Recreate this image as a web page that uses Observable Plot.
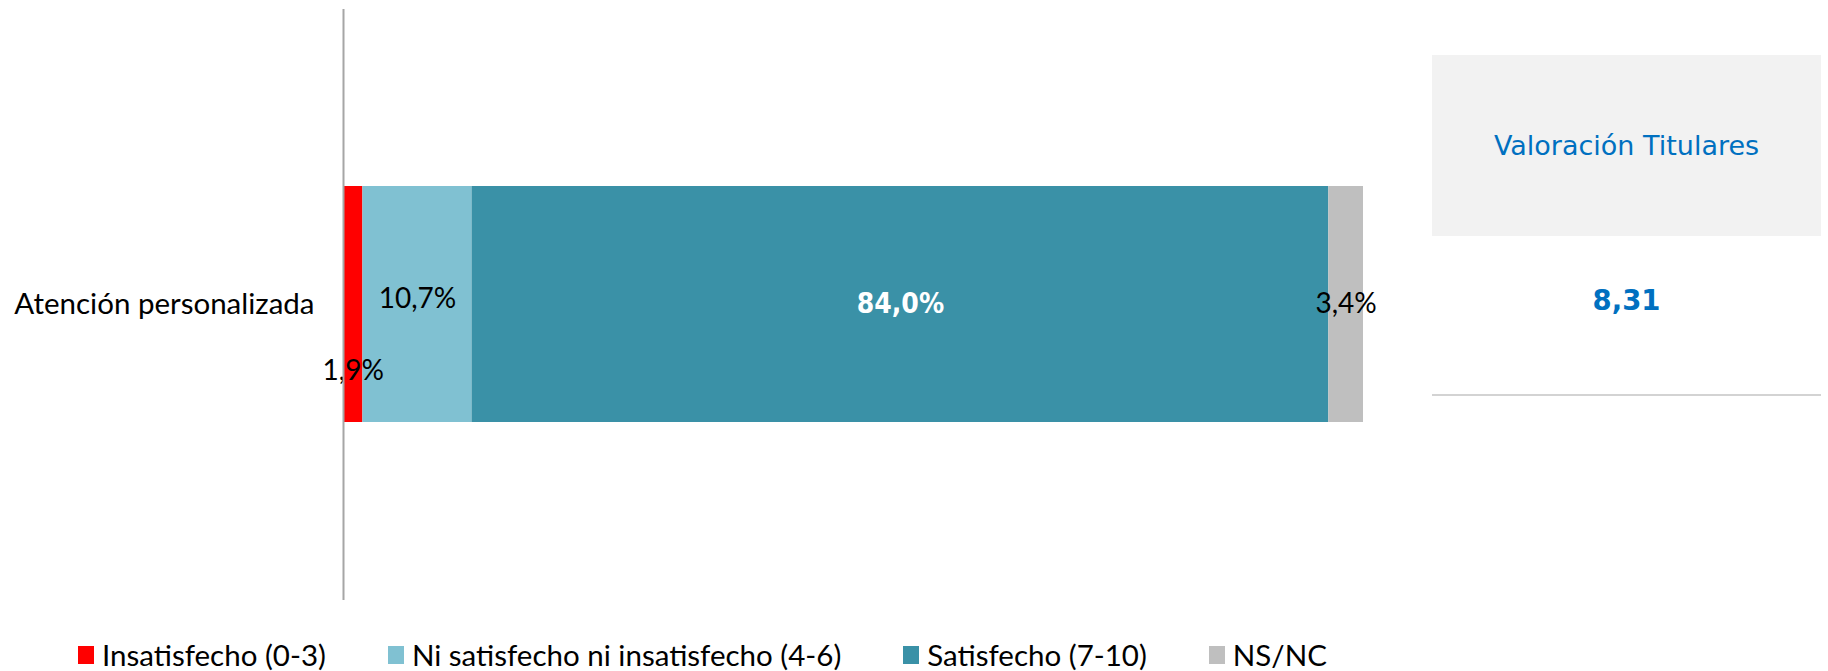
<!DOCTYPE html>
<html>
<head>
<meta charset="utf-8">
<script src="https://cdn.jsdelivr.net/npm/d3@7"></script>
<script src="https://cdn.jsdelivr.net/npm/@observablehq/plot@0.6"></script>
<style>
  html, body { margin: 0; padding: 0; background: #fff; }
  #wrap { position: relative; width: 1828px; height: 671px; overflow: hidden; }
  #panel { position: absolute; left: 1432px; top: 55px; width: 389px; height: 181px; background: #F2F2F2;
    display: flex; align-items: center; justify-content: center;
    font-family: "DejaVu Sans", Verdana, sans-serif; font-size: 27px; color: #0070C0; }
  #score { position: absolute; left: 1432px; top: 280px; width: 389px; text-align: center;
    font-family: "DejaVu Sans", Verdana, sans-serif; font-weight: bold; font-size: 27.5px; color: #0070C0; line-height: 40px; }
  #rule { position: absolute; left: 1432px; top: 394px; width: 389px; height: 2px; background: #D3D3D3; }
  #legend { position: absolute; left: 0; top: 634px; height: 41px; width: 1828px; display: flex; align-items: center;
    font-family: Lato, "Open Sans", sans-serif; font-size: 29.5px; color: #000; padding-left: 78px; box-sizing: border-box; }
  .item { display: flex; align-items: center; margin-right: 62px; }
  .sw { width: 16px; height: 18px; margin-right: 8px; }
</style>
</head>
<body>
<div id="wrap">
  <div id="chart"></div>
  <div id="panel"></div>
  <div id="score"></div>
  <div id="rule"></div>
  <div id="legend"></div>
</div>
<script>
const categories = ["Atención personalizada"];
const series = ["Insatisfecho (0-3)", "Ni satisfecho ni insatisfecho (4-6)", "Satisfecho (7-10)", "NS/NC"];
const values = [1.9, 10.7, 84.0, 3.4];
const colors = ["#FF0000", "#80C1D2", "#3A91A7", "#BFBFBF"];
const panelTitle = ["Valoración Titulares"];
const panelValues = ["8,31"];

const data = series.map((s, i) => ({cat: categories[0], series: s, value: values[i]}));
const fmt = v => v.toFixed(1).replace(".", ",") + "%";

const labelStyles = [
  {fill: "black", fontWeight: "normal", dy: 67, fontSize: 28},
  {fill: "black", fontWeight: "normal", dy: -5, fontSize: 28},
  {fill: "white", fontWeight: "bold", dy: 0, fontSize: 28, fontFamily: "DejaVu Sans Condensed, DejaVu Sans, sans-serif"},
  {fill: "black", fontWeight: "normal", dy: 0, fontSize: 28}
];

const textMarks = series.map((s, i) =>
  Plot.text(data, Plot.stackX({
    x: "value", y: "cat", order: null,
    text: d => d.series === s ? fmt(d.value) : null,
    ...labelStyles[i]
  }))
);

const chart = Plot.plot({
  width: 1828,
  height: 630,
  marginTop: 9,
  marginBottom: 30,
  marginLeft: 343,
  marginRight: 465,
  style: {fontFamily: "Lato, 'Open Sans', sans-serif", background: "white"},
  x: {domain: [0, 100], axis: null},
  y: {domain: categories, padding: 0.4276, label: null},
  color: {domain: series, range: colors},
  marks: [
    Plot.axisY({tickSize: 0, tickPadding: 29, fontSize: 29.5, label: null}),
    Plot.barX(data, Plot.stackX({x: "value", y: "cat", fill: "series", order: null})),
    ...textMarks,
    Plot.ruleX([0], {stroke: "#A6A6A6", strokeWidth: 2})
  ]
});
document.getElementById("chart").appendChild(chart);

document.getElementById("panel").textContent = panelTitle[0];
document.getElementById("score").textContent = panelValues[0];

const legend = document.getElementById("legend");
series.forEach((s, i) => {
  const it = document.createElement("div");
  it.className = "item";
  const sw = document.createElement("div");
  sw.className = "sw";
  sw.style.background = colors[i];
  const tx = document.createElement("span");
  tx.textContent = s;
  it.appendChild(sw); it.appendChild(tx);
  legend.appendChild(it);
});
</script>
</body>
</html>
